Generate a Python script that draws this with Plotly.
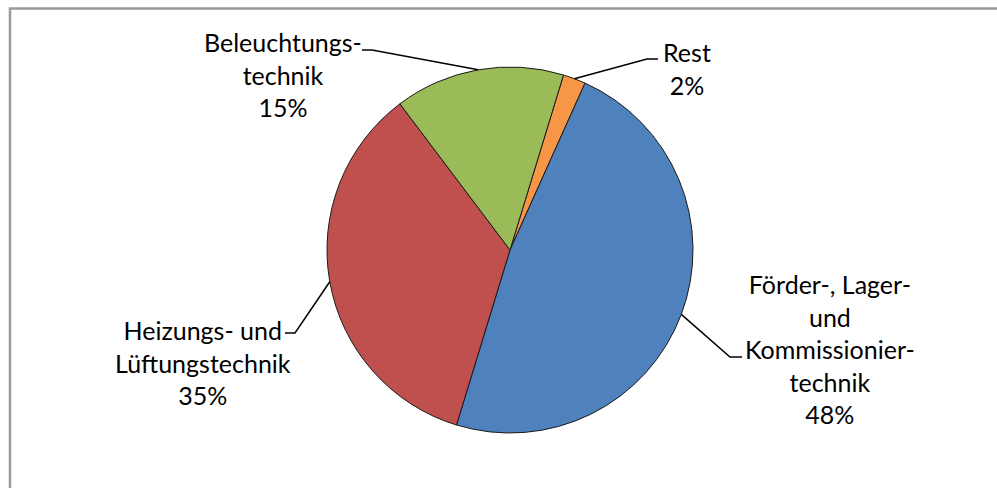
import math
import plotly.graph_objects as go

# ---- data ----
categories = ["Rest", "Förder-, Lager-<br>und<br>Kommissionier-<br>technik",
              "Heizungs- und<br>Lüftungstechnik", "Beleuchtungs-<br>technik"]
values = [2, 48, 35, 15]
colors = ["#F79646", "#4F81BD", "#C0504D", "#9BBB59"]

# ---- layout constants (pixels) ----
W, H = 997, 488
CX, CY, R = 510, 250, 183
ROT = 17
FONT = "Lato"
FS = 25
# label centre and elbow for each slice (same order as data)
label_pos = [(687, 68), (830, 349), (203, 362), (283, 75)]
elbow = [((647, 59), (658, 59)), ((730, 357), (742, 357)),
         ((295, 333), (285, 333)), ((372, 50), (362, 50))]


def px(x):
    return x / W


def py(y):
    return 1 - y / H


fig = go.Figure(go.Pie(
    labels=[c.replace("<br>", " ") for c in categories],
    values=values,
    sort=False,
    direction="clockwise",
    rotation=ROT,
    marker=dict(colors=colors, line=dict(color="#1a1a1a", width=1)),
    textinfo="none",
    hoverinfo="label+percent",
    showlegend=False,
    domain=dict(x=[px(CX - R), px(CX + R)], y=[py(CY + R), py(CY - R)]),
))

total = sum(values)
cum = 0
shapes = []
annotations = []
for i, v in enumerate(values):
    mid = math.radians(ROT + (cum + v / 2) / total * 360)
    cum += v
    ex, ey = CX + R * math.sin(mid), CY - R * math.cos(mid)
    (bx, by), (hx, hy) = elbow[i]
    shapes.append(dict(type="path", xref="paper", yref="paper",
                       path=f"M {px(ex)} {py(ey)} L {px(bx)} {py(by)} L {px(hx)} {py(hy)}",
                       line=dict(color="#000000", width=1.5)))
    pct = round(v / total * 100)
    lx, ly = label_pos[i]
    annotations.append(dict(x=px(lx), y=py(ly), xref="paper", yref="paper",
                            text=f"{categories[i]}<br>{pct}%", showarrow=False,
                            xanchor="center", yanchor="middle", align="center",
                            font=dict(family=FONT, size=FS, color="#000000")))

shapes.append(dict(type="rect", xref="paper", yref="paper",
                   x0=px(10), x1=px(W + 20), y0=py(H + 20), y1=py(8.5),
                   line=dict(color="#9a9a9a", width=2.5)))

fig.update_layout(width=W, height=H, margin=dict(l=0, r=0, t=0, b=0),
                  paper_bgcolor="white", plot_bgcolor="white",
                  shapes=shapes, annotations=annotations)
fig.write_html("out.html")
